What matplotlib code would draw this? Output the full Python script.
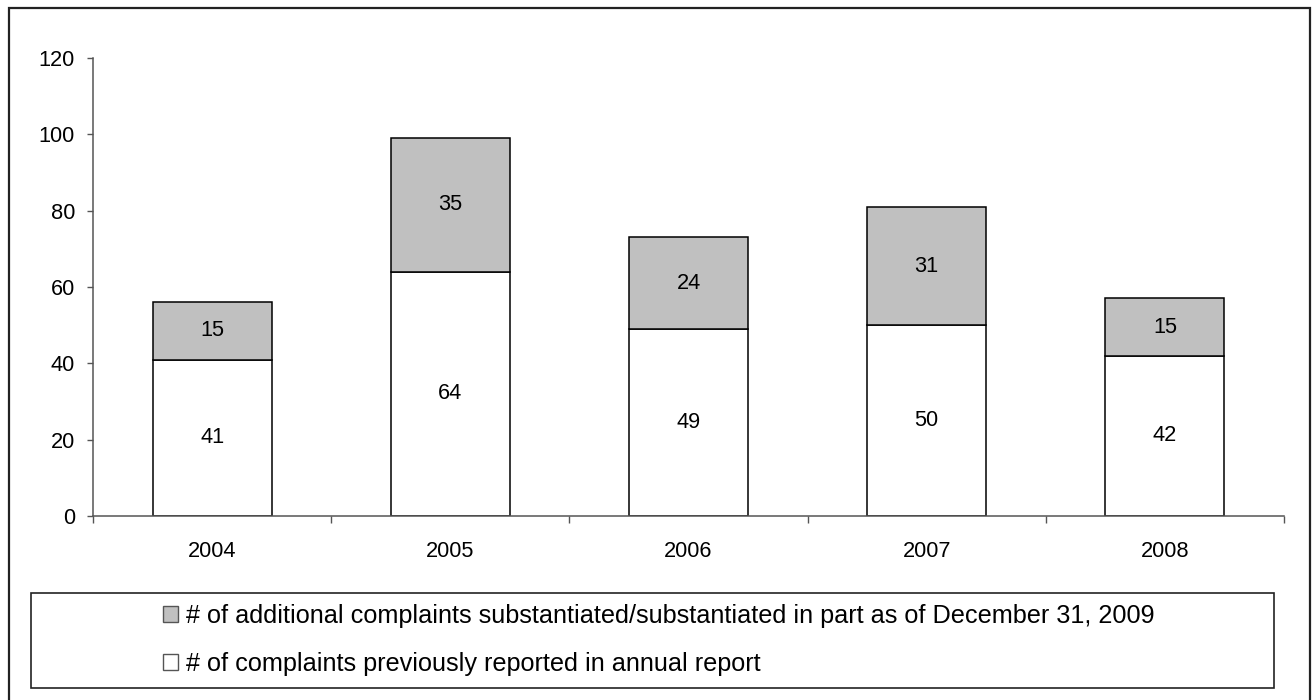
import matplotlib
matplotlib.use("Agg")
import matplotlib.pyplot as plt
from matplotlib.patches import Rectangle
import numpy as np

years = ["2004", "2005", "2006", "2007", "2008"]
previously_reported = [41, 64, 49, 50, 42]
additional_substantiated = [15, 35, 24, 31, 15]
y_ticks = [0, 20, 40, 60, 80, 100, 120]
label_prev = "# of complaints previously reported in annual report"
label_add = "# of additional complaints substantiated/substantiated in part as of December 31, 2009"

plt.rcParams["font.family"] = ["Liberation Sans", "DejaVu Sans"]
FS = 15.7
FS_LEG = 18.2

W, H = 1314, 700
fig = plt.figure(figsize=(W / 100, H / 100), dpi=100)

def fx(px):
    return px / W

def fy(py):
    return 1 - py / H

ax = fig.add_axes([fx(93), fy(516), fx(1284) - fx(93), fy(58) - fy(516)])

x = np.arange(len(years))
bars_prev = ax.bar(x, previously_reported, width=0.5, color="white",
                   edgecolor="black", linewidth=1.1, zorder=2)
bars_add = ax.bar(x, additional_substantiated, width=0.5, bottom=previously_reported,
                  color="#C0C0C0", edgecolor="black", linewidth=1.1, zorder=2)

for xi, p, a in zip(x, previously_reported, additional_substantiated):
    ax.text(xi, p / 2, str(p), ha="center", va="center", fontsize=FS, color="black")
    ax.text(xi, p + a / 2, str(a), ha="center", va="center", fontsize=FS, color="black")

ax.set_xlim(-0.5, len(years) - 0.5)
ax.set_ylim(0, 120)
ax.set_yticks(y_ticks)
ax.set_yticklabels([str(t) for t in y_ticks], fontsize=FS)
ax.tick_params(axis="y", length=4, width=1, color="#555555", pad=9)

ax.set_xticks(np.arange(len(years) + 1) - 0.5)
ax.set_xticklabels([])
ax.set_xticks(x, minor=True)
ax.set_xticklabels(years, minor=True, fontsize=FS)
ax.tick_params(axis="x", which="major", length=5, width=1, color="#555555", direction="out")
ax.tick_params(axis="x", which="minor", length=0, pad=18)

for side in ("top", "right"):
    ax.spines[side].set_visible(False)
for side in ("left", "bottom"):
    ax.spines[side].set_color("#555555")
    ax.spines[side].set_linewidth(1.1)

# outer chart border
fig.patches.append(Rectangle((fx(9), fy(702)), fx(1310) - fx(9), fy(8) - fy(702),
                             transform=fig.transFigure, fill=False,
                             edgecolor="#222222", linewidth=1.6))
# legend frame
lx0, lx1, ly0, ly1 = 31, 1274, 593, 688
fig.patches.append(Rectangle((fx(lx0), fy(ly1)), fx(lx1) - fx(lx0), fy(ly0) - fy(ly1),
                             transform=fig.transFigure, fill=False,
                             edgecolor="#222222", linewidth=1.2))

leg = fig.legend([bars_add, bars_prev], [label_add, label_prev],
                 loc="center left",
                 bbox_to_anchor=(fx(163), fy(640)),
                 bbox_transform=fig.transFigure,
                 frameon=False, fontsize=FS_LEG, handlelength=0.6, handleheight=0.6,
                 handletextpad=0.32, labelspacing=0.93, borderpad=0, borderaxespad=0)
for h in leg.legend_handles:
    h.set_edgecolor("#555555")
    h.set_linewidth(1.0)

fig.savefig("out.png", dpi=100)
